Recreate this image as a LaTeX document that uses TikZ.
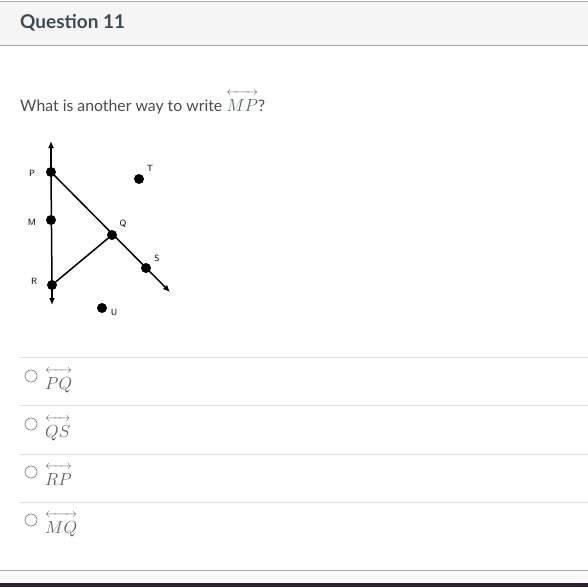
\RequirePackage{fix-cm}
\documentclass[tikz,border=0pt]{standalone}
\usepackage{amsmath}
\usepackage{fontspec}
\setmainfont{Lato}
\usepackage{xcolor}
\usetikzlibrary{arrows.meta}
\definecolor{HeadFill}{HTML}{F5F5F5}
\definecolor{HeadRule}{HTML}{A8A8A8}
\definecolor{HeadText}{HTML}{3F4B52}
\definecolor{BodyText}{HTML}{4B4B4B}
\definecolor{MathText}{HTML}{56636A}
\definecolor{OptRule}{HTML}{DDDDDD}
\definecolor{FootBar}{HTML}{2C2230}
\makeatletter
\newcommand{\lineover}[1]{\vbox{\m@th\offinterlineskip\ialign{##\crcr
  \leftrightarrowfill@\scriptstyle\crcr\noalign{\kern3.5pt}
  $\hfil#1\hfil$\crcr}}}
\makeatother

\begin{document}
\begin{tikzpicture}[x=1pt, y=-1pt,
  pt/.style={circle, fill=black, inner sep=0pt, minimum size=10pt},
  ptlabel/.style={font=\fontsize{9}{9}\selectfont\sffamily},
  seg/.style={line width=1.5pt},
  ray/.style={line width=1.5pt, -{Latex[length=7pt,width=6pt]}},
  radio/.style={circle, draw=gray, line width=0.7pt, inner sep=0pt, minimum size=12pt},
  choice/.style={anchor=base west, text=MathText, font=\fontsize{17.5}{20}\selectfont, inner sep=0pt}]
\useasboundingbox (0,0) rectangle (588,587);
%
\fill[HeadFill] (0,1) rectangle (588,45);
\draw[HeadRule, line width=1pt] (0,1) -- (588,1);
\draw[HeadRule, line width=1pt] (0,45) -- (588,45);
\node[anchor=base west, inner sep=0pt, text=HeadText, font=\fontsize{19}{22}\selectfont\bfseries] (title) at (20,28) {Question 11};
%
\node[anchor=base west, inner sep=0pt, text=BodyText, font=\fontsize{15.8}{18}\selectfont] (ask) at (20,111) {What is another way to write {\fontsize{17.5}{20}\selectfont\textcolor{MathText}{\lineover{MP}}}?};
%
\node[pt] (P) at (51,172) {};
\node[pt] (M) at (51,220) {};
\node[pt] (R) at (52,285) {};
\node[pt] (Q) at (112,235) {};
\node[pt] (S) at (146,268) {};
\node[pt] (T) at (139,179) {};
\node[pt] (U) at (102,308) {};
\coordinate (up) at (51,141);
\coordinate (down) at (52,305);
\coordinate (far) at (170,292);
%
\draw[ray] (P.center) -- (up);
\draw[ray] (R.center) -- (down);
\draw[seg] (P.center) -- (R.center);
\draw[ray] (P.center) -- (far);
\draw[seg] (R.center) -- (Q.center);
%
\node[ptlabel] (lP) at (32,173) {P};
\node[ptlabel] (lM) at (32,222) {M};
\node[ptlabel] (lR) at (34,281) {R};
\node[ptlabel] (lQ) at (123,224) {Q};
\node[ptlabel] (lS) at (157,258) {S};
\node[ptlabel] (lT) at (150,168) {T};
\node[ptlabel] (lU) at (114,312) {U};
%
\foreach \y in {357,405,454,502}
  \draw[OptRule, line width=1pt] (20,\y) -- (588,\y);
\node[radio] (r1) at (31,376) {};
\node[radio] (r2) at (31,424) {};
\node[radio] (r3) at (31,472) {};
\node[radio] (r4) at (31,520) {};
\node[choice] (c1) at (45,389) {\lineover{PQ}};
\node[choice] (c2) at (45,437) {\lineover{QS}};
\node[choice] (c3) at (45,485) {\lineover{RP}};
\node[choice] (c4) at (45,533) {\lineover{MQ}};
%
\fill[HeadFill!60] (0,570) rectangle (588,583);
\draw[HeadRule, line width=1pt] (0,570) -- (588,570);
\fill[FootBar] (0,583) rectangle (588,587);
\end{tikzpicture}
\end{document}
